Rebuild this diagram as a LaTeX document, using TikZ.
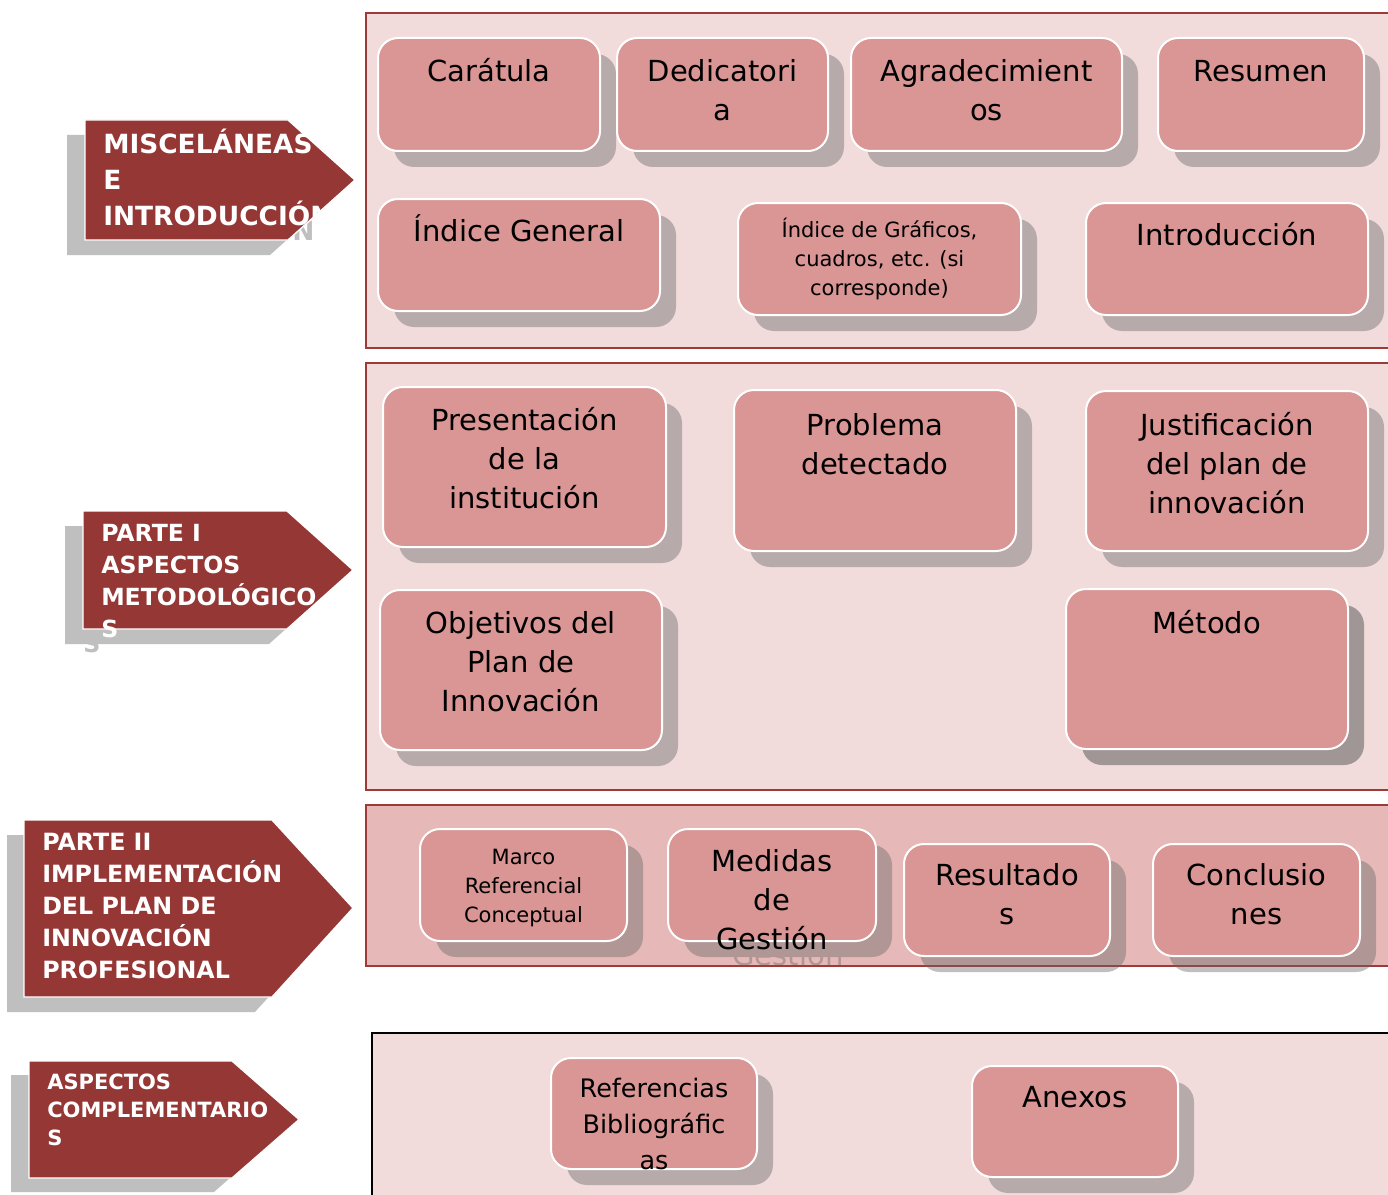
\documentclass[tikz,border=0pt]{standalone}
\usepackage{fontspec}
\setmainfont{DejaVu Sans}
\definecolor{arrowred}{HTML}{953735}
\definecolor{panelbg}{HTML}{F2DCDB}
\definecolor{panelbgdark}{HTML}{E6B9B8}
\definecolor{panelline}{HTML}{9E3B39}
\definecolor{boxfill}{HTML}{D99694}
\definecolor{shadowgray}{RGB}{100,100,100}
\definecolor{arrowshadow}{HTML}{BFBFBF}
\pgfdeclarelayer{panels}
\pgfdeclarelayer{shadows}
\pgfdeclarelayer{boxes}
\pgfsetlayers{panels,shadows,boxes,main}
\tikzset{
  panel/.style={draw=panelline, line width=1.5pt, fill=panelbg},
  pinkbox/.style={draw=white, line width=1.5pt, fill=boxfill, rounded corners=15pt, inner sep=0pt},
  boxshadow/.style={fill=shadowgray, rounded corners=15pt},
  boxtext/.style={anchor=north, inner sep=0pt, align=center, text=black},
  f29/.style={font=\fontsize{21.75}{29.25}\selectfont},
  f21/.style={font=\fontsize{15.75}{21.75}\selectfont},
  f25/.style={font=\fontsize{19.1}{27}\selectfont},
  tagshape/.style={fill=arrowred, draw=white, line width=1pt},
  tagshadow/.style={fill=arrowshadow},
  tagtext/.style={anchor=north west, inner sep=0pt, align=left, text=white},
  ta/.style={font=\bfseries\fontsize{19.8}{27}\selectfont},
  tb/.style={font=\bfseries\fontsize{17.7}{24}\selectfont},
  tc/.style={font=\bfseries\fontsize{17.8}{24}\selectfont},
  td/.style={font=\bfseries\fontsize{15.75}{21}\selectfont},
}
\newcommand\shop{0.41}
% #1 name, #2 x1, #3 y1, #4 x2, #5 y2, #6 font style, #7 text top, #8 text, #9 visible shadow text
\newcommand\pbx[9]{%
  \begin{pgfonlayer}{shadows}
    \begin{scope}[transparency group, opacity=\shop]
      \fill[boxshadow] ({#2+16},{#3+16}) rectangle ({#4+16},{#5+16});
      \if\relax\detokenize{#9}\relax\else
      \node[boxtext,#6,text=shadowgray] (#1s) at ({(#2+#4)/2+16},{#7+16}) {\strut #9};
      \fi
    \end{scope}
  \end{pgfonlayer}
  \begin{pgfonlayer}{boxes}
    \node[pinkbox, minimum width={(#4-#2)*0.75pt}, minimum height={(#5-#3)*0.75pt}] (#1) at ({(#2+#4)/2},{(#3+#5)/2}) {};
  \end{pgfonlayer}
  \node[boxtext,#6] (#1t) at ({(#2+#4)/2},#7) {\strut #8};
}
\begin{document}
\begin{tikzpicture}[x=0.75pt,y=-0.75pt]
\useasboundingbox (0,0) rectangle (1388,1195);
\clip (0,0) rectangle (1388,1195);

% panels
\begin{pgfonlayer}{panels}
  \fill[white] (0,0) rectangle (1388,1195);
  \draw[panel] (366,13) rectangle (1400,348);
  \draw[panel] (366,363) rectangle (1400,790);
  \draw[panel, fill=panelbgdark] (366,805) rectangle (1400,966);
  \draw[panel, draw=black] (372,1033) rectangle (1400,1215);
\end{pgfonlayer}

% left tags: shadows
\fill[tagshadow] (67,135) -- (270,135) -- (337,195) -- (270,255) -- (67,255) -- cycle;
\node[tagtext,ta,text=arrowshadow] (a1s) at (85,143.4) {\strut\\\strut\\\phantom{INTRODUCCIÓ}N};
\fill[tagshadow] (65,526) -- (269,526) -- (335,585) -- (269,644) -- (65,644) -- cycle;
\node[tagtext,tb,text=arrowshadow] (a2s) at (83,534.2) {\strut\\\strut\\\strut\\S};
\fill[tagshadow] (7,835) -- (255,835) -- (336,923) -- (255,1012) -- (7,1012) -- cycle;
\fill[tagshadow] (11,1075) -- (214,1075) -- (281,1133) -- (214,1192) -- (11,1192) -- cycle;

% left tags: main
\draw[tagshape] (85,120) -- (288,120) -- (355,180) -- (288,240) -- (85,240) -- cycle;
\node[tagtext,ta] (a1) at (103,128.4) {\strut MISCELÁNEAS\\E\\INTRODUCCIÓN};
\draw[tagshape] (83,511) -- (287,511) -- (353,570) -- (287,629) -- (83,629) -- cycle;
\node[tagtext,tb] (a2) at (101,519.2) {\strut PARTE I\\ASPECTOS\\METODOLÓGICO\\S};
\draw[tagshape] (24,820) -- (272,820) -- (353,908) -- (272,997) -- (24,997) -- cycle;
\node[tagtext,tc] (a3) at (42,828.2) {\strut PARTE II\\IMPLEMENTACIÓN\\DEL PLAN DE\\INNOVACIÓN\\PROFESIONAL};
\draw[tagshape] (29,1061) -- (232,1061) -- (299,1119.5) -- (232,1178) -- (29,1178) -- cycle;
\node[tagtext,td] (a4) at (47,1070.1) {\strut ASPECTOS\\COMPLEMENTARIO\\S};

% boxes
\pbx{b1}{378}{38}{600}{151}{f29}{53.7}{Carátula}{}
\pbx{b2}{617}{38}{828}{151}{f29}{53.7}{Dedicatori\\a}{}
\pbx{b3}{851}{38}{1122}{151}{f29}{53.7}{Agradecimient\\os}{}
\pbx{b4}{1158}{38}{1364}{151}{f29}{53.7}{Resumen}{}
\pbx{b5}{378}{199}{660}{311}{f29}{213.7}{Índice General}{}
\pbx{b6}{738}{203}{1021}{315}{f21}{217.2}{Índice de Gráficos,\\cuadros, etc. (si\\corresponde)}{}
\pbx{b7}{1086}{203}{1368}{315}{f29}{217.7}{Introducción}{}
\pbx{b8}{383}{387}{666}{547}{f29}{403.2}{Presentación\\de la\\institución}{}
\pbx{b9}{734}{390}{1016}{551}{f29}{407.7}{Problema\\detectado}{}
\pbx{b10}{1086}{391}{1368}{551}{f29}{407.7}{Justificación\\del plan de\\innovación}{}
\pbx{b11}{380}{590}{662}{750}{f29}{605.7}{Objetivos del\\Plan de\\Innovación}{}
\renewcommand\shop{0.58}
\pbx{b12}{1066}{589}{1348}{749}{f29}{605.7}{Método}{}
\renewcommand\shop{0.41}
\pbx{b13}{420}{829}{627}{941}{f21}{844.2}{Marco\\Referencial\\Conceptual}{}
\pbx{b14}{668}{829}{876}{941}{f29}{843.7}{Medidas\\de\\Gestión}{\\\strut\\Gestión}
\pbx{b15}{904}{844}{1110}{956}{f29}{857.7}{Resultado\\s}{}
\pbx{b16}{1153}{844}{1360}{956}{f29}{857.7}{Conclusio\\nes}{}
\pbx{b17}{551}{1058}{757}{1169}{f25}{1071.8}{Referencias\\Bibliográfic\\as}{}
\pbx{b18}{972}{1066}{1178}{1177}{f29}{1079.7}{Anexos}{}
\end{tikzpicture}
\end{document}
